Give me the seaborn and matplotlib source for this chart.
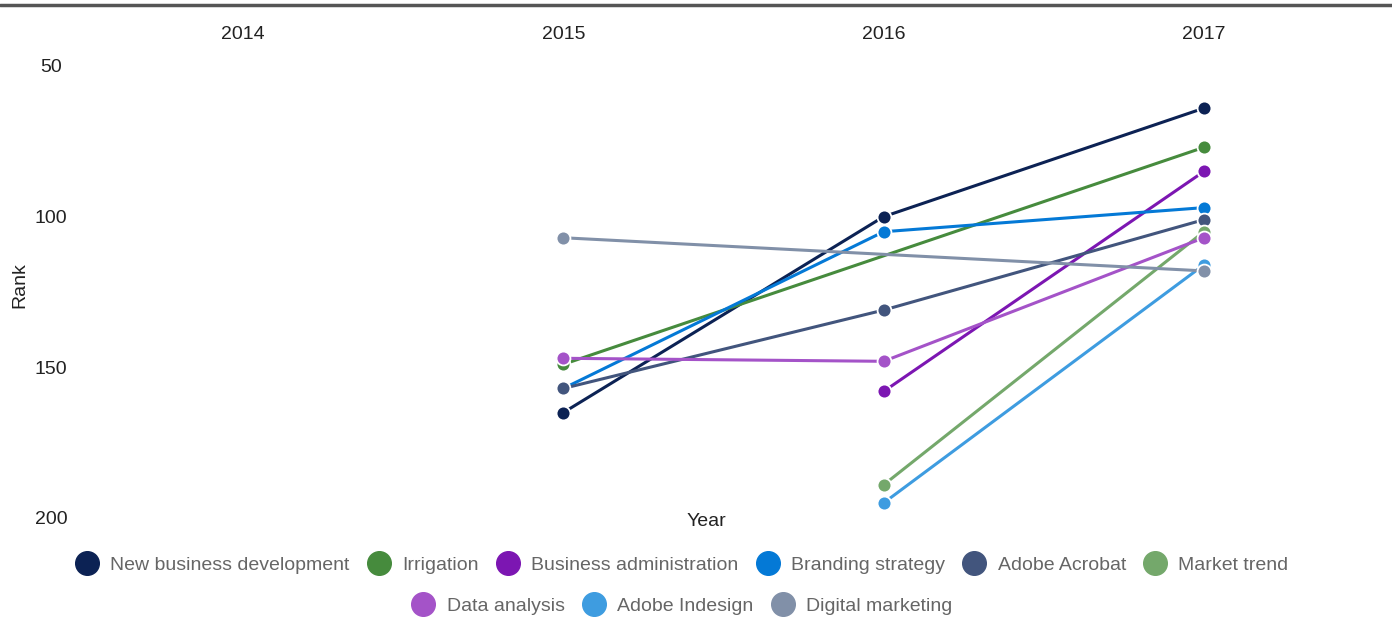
import numpy as np
import pandas as pd
import matplotlib.pyplot as plt
from matplotlib.lines import Line2D
import seaborn as sns

YEARS = [2014, 2015, 2016, 2017]
SKILLS = ["New business development", "Irrigation", "Business administration",
          "Branding strategy", "Adobe Acrobat", "Market trend",
          "Data analysis", "Adobe Indesign", "Digital marketing"]

# rank per year (nan = not ranked that year)
new_business = [np.nan, 165, 100, 64]
irrigation = [np.nan, 149, np.nan, 77]
business_admin = [np.nan, np.nan, 158, 85]
branding = [np.nan, 157, 105, 97]
acrobat = [np.nan, 157, 131, 101]
market_trend = [np.nan, np.nan, 189, 105]
data_analysis = [np.nan, 147, 148, 107]
indesign = [np.nan, np.nan, 195, 116]
digital_marketing = [np.nan, 107, np.nan, 118]

COLORS = ["#0c2254", "#468b3d", "#7c16b2", "#0479d6", "#42557d",
          "#74a86b", "#a453c8", "#3e9ce0", "#8190a8"]

ranks = [new_business, irrigation, business_admin, branding, acrobat,
         market_trend, data_analysis, indesign, digital_marketing]

rows = []
for skill, vals in zip(SKILLS, ranks):
    for yr, v in zip(YEARS, vals):
        if not np.isnan(v):
            rows.append({"Year": yr, "Rank": v, "Skill": skill})
df = pd.DataFrame(rows)
palette = dict(zip(SKILLS, COLORS))

sns.set_theme(style="white")
plt.rcParams["font.family"] = ["Liberation Sans", "DejaVu Sans"]

fig = plt.figure(figsize=(13.92, 6.25), dpi=100)
ax = fig.add_axes([83 / 1392, 1 - 518 / 625, 1281 / 1392, 452 / 625])

sns.lineplot(data=df, x="Year", y="Rank", hue="Skill", hue_order=SKILLS,
             palette=palette, marker="o", markersize=10, markeredgecolor="white",
             markeredgewidth=1.3, linewidth=2.2, sort=True, legend=False, ax=ax)

ax.set_xlim(2013.5, 2017.5)
ax.set_ylim(200, 50)
ax.set_xticks(YEARS)
ax.set_xticklabels([str(y) for y in YEARS])
ax.set_yticks([50, 100, 150, 200])
ax.xaxis.tick_top()
ax.tick_params(axis="x", length=0, pad=16.5, labelsize=14, labelcolor="#222222")
ax.tick_params(axis="y", length=0, pad=23, labelsize=14, labelcolor="#222222")
for lbl in ax.get_yticklabels():
    lbl.set_horizontalalignment("center")
for s in ax.spines.values():
    s.set_visible(False)

ax.set_xlabel("Year", fontsize=14, color="#222222")
ax.xaxis.set_label_position("bottom")
ax.xaxis.set_label_coords(0.487, 0.01)
ax.set_ylabel("Rank", fontsize=14, color="#222222")
ax.yaxis.set_label_coords(-0.043, 0.515)

# top border line
fig.add_artist(Line2D([0, 1], [0.992, 0.992], transform=fig.transFigure,
                      color="#555555", linewidth=2.5))

def handles(names):
    return [Line2D([], [], marker="o", linestyle="", markersize=17,
                   markerfacecolor=palette[n], markeredgecolor=palette[n]) for n in names]

leg_kw = dict(frameon=False, fontsize=14, labelcolor="#666666",
              handlelength=1.2, handletextpad=0.6, columnspacing=0.9,
              borderaxespad=0, loc="center")
leg1 = fig.legend(handles(SKILLS[:6]), SKILLS[:6], ncol=6,
                  bbox_to_anchor=(682 / 1392, 1 - 565 / 625), **leg_kw)
leg2 = fig.legend(handles(SKILLS[6:]), SKILLS[6:], ncol=3,
                  bbox_to_anchor=(682 / 1392, 1 - 606 / 625), **leg_kw)

plt.savefig("out.png", dpi=100)
